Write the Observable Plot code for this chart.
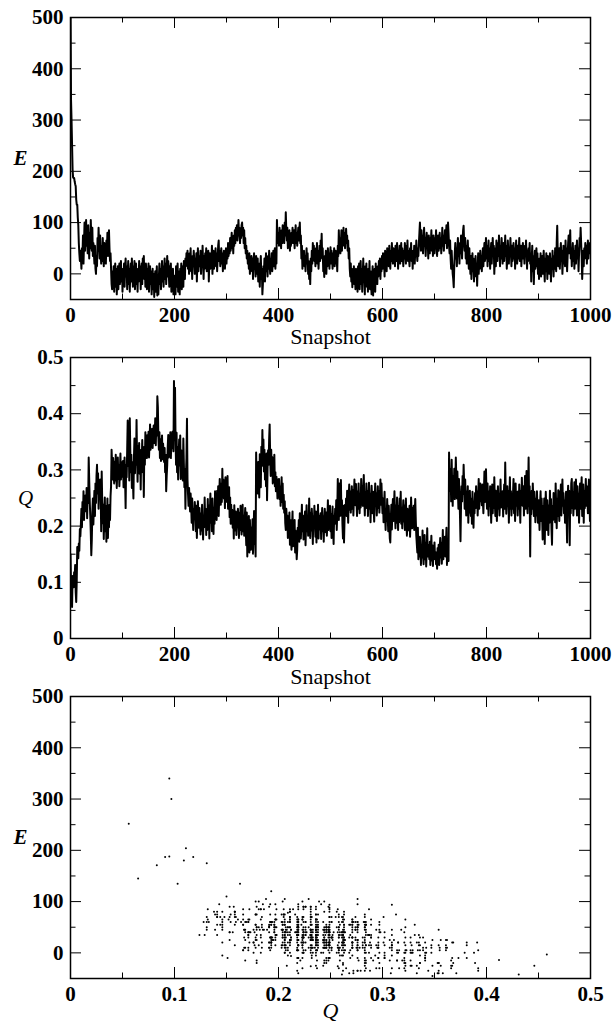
<!DOCTYPE html>
<html><head><meta charset="utf-8">
<script src="https://cdn.jsdelivr.net/npm/d3@7"></script>
<script src="https://cdn.jsdelivr.net/npm/@observablehq/plot@0.6"></script>
<style>
html,body{margin:0;padding:0;background:#fff;}
#chart svg{display:block;}
#chart svg text{font-family:"Liberation Serif","Times New Roman",serif !important;}
</style></head><body><div id="chart"></div>
<script>
// Energy E for snapshots 0..999
const energy = [
540,340,300,252,204,188,187,187,180,175,
171,145,135,135,110,95,60,40,25,45,
30,10,50,35,75,20,60,100,45,70,
105,55,85,40,95,65,30,80,50,105,
70,45,90,35,60,40,20,55,10,0,
35,15,70,45,90,55,30,75,40,20,
55,25,70,40,15,60,30,50,20,65,
45,80,35,60,85,50,25,40,10,-20,
-30,5,-15,15,-35,0,20,-25,10,-40,
-10,15,-30,5,20,-20,0,25,-15,10,
-35,5,-10,20,-25,10,30,-5,15,-30,
0,25,-20,10,-35,5,20,-15,30,0,
-25,15,-10,25,-30,0,20,-20,5,-35,
10,-15,25,-5,15,-30,5,20,-20,30,
0,35,-10,15,-25,20,5,-30,10,-15,
20,-35,0,15,-20,5,-40,-10,10,-30,
0,-45,-15,5,-35,-10,15,-42,-14,-40,
-5,20,-20,10,-30,0,25,-15,15,-25,
5,30,-10,20,-20,10,35,-5,25,0,
-25,15,-10,20,-35,5,-20,10,-40,-3,
-30,-25,-40,15,-25,-10,20,-35,5,-20,
-40,10,-15,20,-30,0,15,-25,25,5,
-10,30,15,40,20,45,10,35,0,40,
20,50,5,30,-10,35,15,45,25,0,
30,10,40,-15,20,50,5,35,15,25,
45,0,30,15,55,20,-10,35,10,40,
25,50,5,30,15,45,-15,25,40,10,
35,20,55,0,30,45,10,35,20,50,
15,40,5,30,55,65,25,45,15,35,
50,20,40,5,30,45,25,10,35,50,
20,45,30,60,35,55,40,70,45,60,
80,50,65,40,75,55,85,60,90,70,
95,65,80,105,75,90,60,85,70,95,
100,75,90,60,85,50,70,40,55,30,
45,20,35,10,40,0,25,15,35,5,
30,-10,20,40,10,25,-5,35,15,0,
30,-15,20,5,-25,15,35,-10,10,-40,
-20,15,0,30,-15,20,40,5,25,-5,
35,10,45,20,0,30,15,40,5,25,
45,15,30,50,10,35,20,105,70,60,
80,55,90,65,75,50,85,60,95,70,
80,60,100,75,120,85,65,90,50,75,
60,85,45,70,55,80,65,90,60,75,
85,50,70,95,60,80,55,75,90,65,
85,100,60,75,30,55,10,40,20,45,
15,35,5,30,50,20,40,0,25,-10,
15,-20,30,5,45,20,60,35,55,25,
40,15,50,30,60,20,45,10,35,55,
25,65,40,78,30,50,5,20,-6,35,
10,45,0,30,15,50,25,40,10,35,
52,20,45,30,10,40,25,50,15,35,
45,20,30,5,55,35,85,50,70,40,
60,85,45,75,55,90,65,80,50,70,
88,60,75,45,65,30,50,10,-5,20,
-15,10,-26,5,-10,15,-20,0,-30,10,
-25,5,-35,15,-10,20,-30,0,25,-20,
10,-35,-5,30,-15,5,-40,15,-10,20,
-25,0,-35,10,-15,25,-30,5,-20,-40,
-10,15,-42,0,-25,10,-35,20,-15,5,
-20,15,-5,25,0,30,-10,20,5,35,
10,40,15,30,-5,45,20,35,5,50,
25,40,15,55,30,10,45,25,60,35,
20,50,30,45,15,55,35,25,60,40,
10,45,30,55,20,40,60,25,50,35,
15,45,30,60,40,20,55,35,65,25,
45,30,15,50,35,60,25,45,10,40,
30,55,20,45,35,65,40,25,50,35,
60,80,100,70,45,85,55,75,40,65,
90,55,70,35,60,80,50,65,30,75,
55,40,70,60,85,45,65,35,75,55,
40,70,60,85,50,35,65,75,45,60,
80,50,70,40,60,90,55,75,45,65,
85,60,75,95,50,70,100,80,55,40,
65,30,10,45,20,0,-10,-26,15,40,
60,30,50,15,45,70,35,55,20,60,
40,75,55,30,65,85,94,60,45,70,
30,55,20,45,65,35,10,50,25,0,
35,-10,20,40,5,30,-15,25,10,35,
-5,20,-23,15,40,0,25,10,45,20,
35,5,30,50,15,40,60,25,45,70,
30,55,15,45,65,25,50,10,40,60,
20,45,70,35,55,0,30,50,15,65,
40,25,60,35,75,45,15,55,30,70,
50,20,40,60,25,45,75,35,55,10,
30,65,45,20,50,35,70,40,15,55,
25,45,60,30,50,10,40,65,35,20,
55,30,45,70,25,40,55,15,35,50,
60,30,45,20,55,35,65,40,10,45,
25,50,35,60,20,40,-15,30,55,5,
35,-20,20,45,10,30,50,15,40,0,
25,-10,30,10,40,-5,20,35,0,25,
45,15,-15,30,5,40,20,-10,35,10,
25,0,40,15,-15,30,10,45,20,-5,
35,10,50,25,5,60,94,40,15,30,
50,10,35,60,25,45,0,30,55,20,
40,15,65,30,50,5,35,60,75,40,
55,85,30,50,15,40,60,25,45,10,
35,55,20,45,65,30,50,5,40,70,
55,90,60,35,-10,20,45,15,50,30,
60,35,55,20,45,65,30,50,40,60
];

// Fraction of native contacts Q for snapshots 0..999
const nativeQ = [
.150,.095,.097,.056,.111,.095,.091,.118,.109,.131,
.083,.065,.103,.163,.150,.143,.169,.156,.195,.182,
.204,.231,.198,.243,.216,.262,.211,.239,.226,.255,
.229,.268,.214,.257,.241,.322,.281,.244,.219,.188,
.148,.176,.224,.249,.203,.237,.263,.218,.276,.241,
.289,.309,.258,.294,.231,.277,.252,.283,.264,.191,
.297,.243,.205,.238,.177,.226,.251,.191,.236,.172,
.204,.249,.179,.226,.198,.238,.211,.253,.271,.336,
.309,.283,.321,.294,.276,.315,.281,.327,.296,.268,
.302,.322,.284,.309,.271,.297,.329,.283,.314,.295,
.288,.316,.269,.301,.322,.283,.232,.309,.287,.335,
.388,.307,.354,.281,.392,.334,.296,.327,.268,.314,
.283,.249,.321,.356,.294,.341,.309,.389,.322,.279,
.342,.307,.348,.293,.328,.265,.336,.315,.353,.296,
.327,.252,.341,.309,.367,.333,.355,.321,.362,.341,
.368,.322,.347,.381,.336,.361,.354,.373,.339,.366,
.379,.348,.366,.392,.344,.381,.361,.431,.412,.358,
.336,.367,.321,.355,.316,.342,.361,.319,.347,.333,
.314,.339,.296,.327,.262,.289,.309,.341,.362,.322,
.348,.335,.367,.321,.354,.339,.368,.347,.333,.458,
.392,.446,.353,.309,.366,.296,.341,.283,.327,.354,
.308,.361,.284,.335,.297,.328,.281,.356,.311,.269,
.302,.231,.289,.321,.391,.283,.257,.236,.268,.244,
.226,.258,.237,.206,.249,.218,.193,.231,.212,.243,
.224,.191,.236,.179,.211,.244,.218,.197,.232,.206,
.185,.223,.192,.238,.204,.176,.219,.198,.251,.207,
.231,.184,.226,.193,.248,.203,.237,.178,.224,.258,
.206,.237,.191,.249,.218,.186,.233,.204,.262,.219,
.244,.211,.263,.229,.271,.218,.252,.284,.257,.238,
.276,.243,.302,.258,.283,.249,.276,.232,.287,.256,
.271,.243,.289,.231,.262,.269,.216,.251,.204,.238,
.211,.229,.197,.224,.178,.237,.205,.192,.226,.184,
.219,.198,.231,.206,.179,.224,.193,.236,.211,.185,
.204,.238,.191,.219,.183,.211,.232,.196,.166,.224,
.146,.193,.171,.218,.153,.211,.179,.158,.198,.166,
.212,.151,.184,.227,.168,.197,.146,.331,.276,.302,
.258,.314,.283,.251,.328,.296,.269,.341,.307,.371,
.322,.354,.297,.336,.283,.315,.271,.329,.246,.302,
.335,.309,.354,.381,.321,.289,.336,.297,.323,.276,
.309,.284,.327,.271,.296,.262,.288,.276,.249,.283,
.263,.284,.248,.271,.236,.258,.287,.243,.276,.231,
.256,.224,.244,.205,.193,.231,.211,.219,.179,.206,
.192,.224,.167,.211,.178,.158,.197,.226,.164,.205,
.186,.211,.153,.192,.171,.141,.158,.197,.179,.211,
.172,.223,.193,.178,.206,.238,.191,.219,.176,.212,
.197,.226,.166,.204,.237,.191,.218,.183,.211,.249,
.203,.179,.224,.192,.231,.209,.168,.218,.196,.236,
.204,.181,.226,.171,.211,.193,.238,.178,.219,.206,
.194,.223,.177,.209,.232,.191,.218,.172,.212,.231,
.206,.189,.224,.183,.211,.246,.193,.219,.203,.236,
.191,.222,.179,.212,.235,.196,.168,.219,.204,.231,
.207,.246,.193,.224,.284,.231,.211,.276,.218,.249,
.282,.219,.246,.203,.178,.236,.171,.211,.238,.224,
.249,.218,.263,.236,.206,.251,.274,.229,.262,.224,
.246,.271,.231,.264,.219,.248,.283,.256,.237,.275,
.243,.218,.262,.231,.276,.244,.223,.258,.233,.284,
.251,.272,.236,.263,.291,.248,.219,.261,.232,.276,
.236,.263,.218,.249,.277,.231,.258,.207,.246,.272,
.248,.223,.261,.233,.208,.245,.276,.236,.259,.219,
.244,.271,.232,.263,.224,.251,.283,.238,.276,.245,
.223,.249,.207,.236,.261,.218,.193,.231,.209,.248,
.219,.191,.236,.206,.178,.171,.212,.238,.194,.226,
.248,.209,.231,.262,.219,.196,.237,.206,.251,.224,
.193,.236,.207,.249,.218,.261,.204,.233,.196,.223,
.246,.208,.237,.193,.226,.249,.204,.183,.231,.211,
.224,.192,.236,.181,.209,.251,.218,.196,.232,.207,
.236,.193,.224,.248,.211,.183,.168,.153,.197,.141,
.171,.146,.181,.158,.131,.166,.144,.192,.153,.132,
.157,.184,.141,.171,.128,.158,.196,.146,.167,.154,
.141,.172,.131,.159,.183,.139,.166,.129,.158,.146,
.171,.141,.154,.132,.146,.124,.161,.139,.167,.131,
.158,.179,.144,.171,.133,.153,.193,.141,.168,.152,
.181,.146,.166,.197,.131,.159,.178,.138,.331,.284,
.263,.302,.244,.318,.271,.236,.289,.257,.302,.248,
.276,.322,.283,.249,.297,.262,.231,.284,.258,.219,
.173,.236,.271,.244,.289,.257,.309,.276,.231,.283,
.248,.219,.262,.233,.271,.206,.246,.224,.263,.231,
.218,.249,.204,.261,.236,.197,.244,.223,.259,.232,
.271,.236,.262,.219,.248,.284,.231,.258,.276,.244,
.262,.237,.274,.246,.223,.259,.297,.243,.271,.301,
.258,.231,.276,.244,.219,.262,.236,.271,.249,.206,
.246,.274,.223,.259,.232,.287,.244,.218,.263,.236,
.209,.249,.271,.231,.258,.219,.246,.283,.233,.261,
.236,.262,.217,.249,.274,.231,.313,.258,.222,.244,
.271,.236,.263,.206,.249,.287,.231,.262,.219,.246,
.231,.258,.284,.223,.246,.209,.276,.236,.261,.249,
.219,.262,.231,.274,.244,.206,.263,.237,.286,.248,
.236,.271,.219,.249,.289,.231,.262,.298,.243,.223,
.264,.322,.236,.271,.146,.249,.221,.263,.231,.276,
.248,.218,.261,.236,.207,.249,.219,.262,.233,.206,
.246,.223,.193,.238,.262,.209,.249,.219,.176,.236,
.204,.249,.168,.223,.261,.231,.193,.246,.218,.184,
.237,.206,.263,.219,.248,.194,.167,.236,.211,.259,
.224,.246,.207,.276,.231,.196,.249,.218,.264,.236,
.209,.262,.231,.274,.219,.248,.283,.236,.259,.223,
.246,.206,.237,.261,.218,.171,.249,.272,.231,.263,
.166,.249,.223,.276,.284,.232,.261,.219,.246,.278,
.231,.263,.283,.244,.219,.271,.236,.258,.206,.249,
.276,.231,.262,.287,.218,.246,.274,.206,.263,.232,
.258,.284,.236,.271,.249,.223,.262,.283,.246,.209
];

const snapTicks = [0,200,400,600,800,1000];
const snapMinor = [100,300,500,700,900];
const eTicks = [0,100,200,300,400,500];
const eMinor = [50,150,250,350,450];
const qTicks = [0,0.1,0.2,0.3,0.4,0.5];
const qMinor = [0.05,0.15,0.25,0.35,0.45];

const n = Math.min(energy.length, nativeQ.length);
const rows = Array.from({length: n}, (_, i) => ({snap: i, E: energy[i], Q: nativeQ[i]}));

const FONT = "Liberation Serif";
const W = 616, ML = 70, MR = 26;
const innerW = W - ML - MR;

function frameTicks(xt, xm, yt, ym, innerH) {
  const M = 11, m = 5.5, s = {stroke: "black", strokeWidth: 1};
  return [
    Plot.tickX(xt, {x: d => d, insetTop: innerH - M, ...s}),
    Plot.tickX(xt, {x: d => d, insetBottom: innerH - M, ...s}),
    Plot.tickX(xm, {x: d => d, insetTop: innerH - m, ...s}),
    Plot.tickX(xm, {x: d => d, insetBottom: innerH - m, ...s}),
    Plot.tickY(yt, {y: d => d, insetRight: innerW - M, ...s}),
    Plot.tickY(yt, {y: d => d, insetLeft: innerW - M, ...s}),
    Plot.tickY(ym, {y: d => d, insetRight: innerW - m, ...s}),
    Plot.tickY(ym, {y: d => d, insetLeft: innerW - m, ...s}),
    Plot.frame({stroke: "black", strokeWidth: 1.5})
  ];
}
function tickLabels(xt, yt) {
  const t = {fontSize: 21, fontWeight: "bold", fontFamily: FONT, fill: "black", lineAnchor: "middle"};
  return [
    Plot.text(xt, {x: d => d, frameAnchor: "bottom", dy: 16, text: d => String(d), ...t}),
    Plot.text(yt, {y: d => d, frameAnchor: "left", dx: -7, textAnchor: "end", text: d => String(d), ...t})
  ];
}
function xTitle(label, dy, italic) {
  return Plot.text([label], {frameAnchor: "bottom", dy, text: d => d, lineAnchor: "bottom",
    fontSize: 22, fontFamily: FONT, fontStyle: italic ? "italic" : "normal", fill: "black"});
}
function yTitle(label, dx, bold) {
  return Plot.text([label], {frameAnchor: "left", dx, text: d => d, lineAnchor: "middle", textAnchor: "middle",
    fontSize: 21, fontFamily: FONT, fontStyle: "italic", fontWeight: bold ? "bold" : "normal", fill: "black"});
}
const style = {fontFamily: FONT, overflow: "visible", background: "white", color: "black"};

const p1 = Plot.plot({
  width: W, height: 350, marginLeft: ML, marginRight: MR, marginTop: 17, marginBottom: 51,
  x: {domain: [0, 1000], axis: null}, y: {domain: [-50, 500], axis: null}, style,
  marks: [
    Plot.line(rows, {x: "snap", y: "E", stroke: "black", strokeWidth: 2, clip: true}),
    ...frameTicks(snapTicks, snapMinor, eTicks, eMinor, 282),
    ...tickLabels(snapTicks, eTicks),
    xTitle("Snapshot", 44, false),
    yTitle("E", -50, true)
  ]
});
const p2 = Plot.plot({
  width: W, height: 340, marginLeft: ML, marginRight: MR, marginTop: 7, marginBottom: 52,
  x: {domain: [0, 1000], axis: null}, y: {domain: [0, 0.5], axis: null}, style,
  marks: [
    Plot.line(rows, {x: "snap", y: "Q", stroke: "black", strokeWidth: 2, clip: true}),
    ...frameTicks(snapTicks, snapMinor, qTicks, qMinor, 281),
    ...tickLabels(snapTicks, qTicks),
    xTitle("Snapshot", 45, false),
    yTitle("Q", -45, false)
  ]
});
const p3 = Plot.plot({
  width: W, height: 341, marginLeft: ML, marginRight: MR, marginTop: 6, marginBottom: 53,
  x: {domain: [0, 0.5], axis: null}, y: {domain: [-50, 500], axis: null}, style,
  marks: [
    Plot.dot(rows, {x: "Q", y: "E", r: 1, fill: "black", clip: true}),
    ...frameTicks(qTicks, qMinor, eTicks, eMinor, 282),
    ...tickLabels(qTicks, eTicks),
    xTitle("Q", 39, true),
    yTitle("E", -50, true)
  ]
});
const root = document.getElementById("chart");
root.append(p1, p2, p3);
</script></body></html>
